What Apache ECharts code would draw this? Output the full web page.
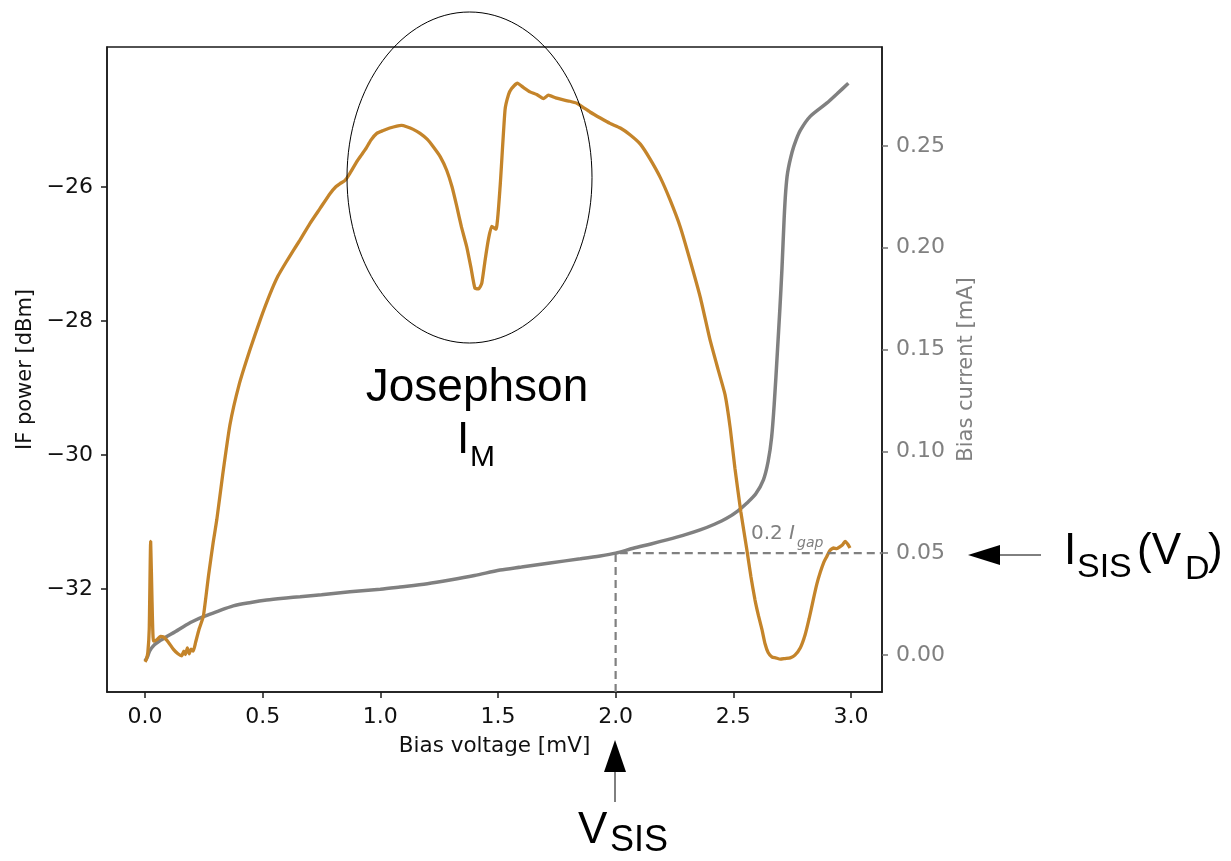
<!DOCTYPE html>
<html>
<head>
<meta charset="utf-8">
<script src="https://cdn.jsdelivr.net/npm/echarts@6/dist/echarts.min.js"></script>
<style>
  html, body { margin: 0; padding: 0; background: #fff; }
  #chart { width: 1231px; height: 861px; }
</style>
</head>
<body>
<div id="chart"></div>
<script>
// IF output power versus SIS bias voltage: [bias voltage mV, power dBm]
const ifPower = [
  [0.0, -33.09], [0.006, -33.05], [0.012, -32.95], [0.018, -32.6], [0.024, -31.29],
  [0.03, -32.2], [0.036, -32.78], [0.05, -32.76], [0.065, -32.71], [0.08, -32.72],
  [0.1, -32.8], [0.12, -32.9], [0.14, -32.97], [0.156, -33.0], [0.165, -32.93],
  [0.172, -32.98], [0.18, -32.88], [0.188, -32.97], [0.196, -32.9], [0.205, -32.93],
  [0.215, -32.8], [0.23, -32.6], [0.248, -32.41], [0.27, -31.8], [0.29, -31.3],
  [0.305, -30.97], [0.33, -30.3], [0.361, -29.55], [0.4, -28.95], [0.446, -28.43],
  [0.49, -27.98], [0.531, -27.6], [0.565, -27.33], [0.6, -27.12], [0.63, -26.95],
  [0.659, -26.79], [0.7, -26.55], [0.744, -26.32], [0.786, -26.1], [0.81, -26.0],
  [0.829, -25.95], [0.85, -25.9], [0.87, -25.8], [0.9, -25.62], [0.92, -25.52],
  [0.94, -25.42], [0.96, -25.3], [0.985, -25.2], [1.01, -25.16], [1.04, -25.12],
  [1.07, -25.09], [1.09, -25.08], [1.112, -25.1], [1.14, -25.14], [1.169, -25.2],
  [1.2, -25.29], [1.225, -25.4], [1.255, -25.55], [1.282, -25.75], [1.305, -26.0],
  [1.325, -26.29], [1.345, -26.6], [1.367, -26.89], [1.385, -27.2], [1.402, -27.51],
  [1.418, -27.52], [1.431, -27.44], [1.445, -27.1], [1.459, -26.79], [1.473, -26.59],
  [1.492, -26.63], [1.509, -26.0], [1.53, -24.85], [1.545, -24.62], [1.558, -24.53],
  [1.582, -24.45], [1.61, -24.52], [1.636, -24.58], [1.665, -24.62], [1.693, -24.68],
  [1.714, -24.63], [1.745, -24.67], [1.778, -24.7], [1.805, -24.72], [1.835, -24.75],
  [1.865, -24.82], [1.891, -24.88], [1.935, -24.97], [1.976, -25.05], [2.02, -25.12],
  [2.061, -25.22], [2.105, -25.36], [2.146, -25.58], [2.19, -25.86], [2.231, -26.19],
  [2.275, -26.6], [2.316, -27.09], [2.36, -27.65], [2.401, -28.28], [2.435, -28.72],
  [2.465, -29.1], [2.487, -29.6], [2.507, -30.2], [2.532, -30.85], [2.557, -31.4],
  [2.575, -31.82], [2.592, -32.16], [2.607, -32.4], [2.622, -32.61], [2.635, -32.82],
  [2.648, -32.95], [2.665, -33.02], [2.68, -33.03], [2.7, -33.05], [2.72, -33.04],
  [2.742, -33.03], [2.762, -32.99], [2.785, -32.88], [2.805, -32.69], [2.822, -32.45],
  [2.84, -32.16], [2.855, -31.93], [2.87, -31.75], [2.885, -31.6], [2.897, -31.52],
  [2.91, -31.43], [2.925, -31.39], [2.94, -31.4], [2.954, -31.37], [2.965, -31.34],
  [2.975, -31.29], [2.986, -31.33], [2.996, -31.39]
];

// DC bias current versus bias voltage: [bias voltage mV, current mA]
const biasCurrent = [
  [0.0, -0.003], [0.01, -0.001], [0.02, 0.002], [0.04, 0.005], [0.07, 0.0075],
  [0.1, 0.0095], [0.13, 0.0115], [0.163, 0.0139], [0.2, 0.0163], [0.248, 0.0188],
  [0.3, 0.021], [0.375, 0.0241], [0.45, 0.0258], [0.517, 0.027], [0.6, 0.028],
  [0.659, 0.0286], [0.75, 0.0296], [0.871, 0.031], [1.0, 0.0323], [1.084, 0.0334],
  [1.2, 0.035], [1.296, 0.0368], [1.4, 0.039], [1.509, 0.0417], [1.6, 0.0432],
  [1.721, 0.0452], [1.85, 0.0472], [1.934, 0.0486], [2.0, 0.05], [2.075, 0.0524],
  [2.15, 0.0545], [2.217, 0.0565], [2.3, 0.0592], [2.359, 0.0614], [2.42, 0.0642],
  [2.472, 0.0671], [2.52, 0.0708], [2.557, 0.0745], [2.595, 0.079], [2.628, 0.086],
  [2.648, 0.095], [2.663, 0.107], [2.675, 0.125], [2.687, 0.148], [2.698, 0.17],
  [2.707, 0.19], [2.716, 0.214], [2.723, 0.228], [2.731, 0.237], [2.75, 0.247],
  [2.767, 0.253], [2.786, 0.2579], [2.826, 0.2644], [2.897, 0.271], [2.94, 0.2755],
  [2.989, 0.2808]
];

// Operating point: bias voltage V_SIS and 0.2 I_gap current level
const opVoltage = 2.0;
const opCurrent = 0.05;

// Axis ranges and tick labels
const xRange = [-0.1615, 3.132];
const powerRange = [-33.54, -23.91];
const currentRange = [-0.0182, 0.2986];
const xTicks = [0.0, 0.5, 1.0, 1.5, 2.0, 2.5, 3.0];
const powerTicks = [-32, -30, -28, -26];
const currentTicks = [0.0, 0.05, 0.10, 0.15, 0.20, 0.25];

const AXIS_FONT = 'DejaVu Sans';
const NOTE_FONT = 'Liberation Sans';
const ORANGE = '#c4842a';
const GREY = '#808080';
const AXIS_BLACK = '#1a1a1a';
const LABEL_BLACK = '#111';

const chart = echarts.init(document.getElementById('chart'), null, { renderer: 'canvas' });

function textEl(text, x, y, size, opts) {
  opts = opts || {};
  return {
    type: 'text',
    z: 100,
    style: {
      text: text,
      x: x,
      y: y,
      fontSize: size,
      fontFamily: opts.family || NOTE_FONT,
      fontStyle: opts.italic ? 'italic' : 'normal',
      fill: opts.color || '#000',
      textAlign: opts.align || 'left',
      align: opts.align || 'left',
      textVerticalAlign: 'middle',
      verticalAlign: 'middle'
    }
  };
}

const option = {
  backgroundColor: '#fff',
  animation: false,
  grid: {
    left: 107, right: 349, top: 47, bottom: 169,
    show: true, borderColor: AXIS_BLACK, borderWidth: 1.5, backgroundColor: 'transparent'
  },
  xAxis: {
    type: 'value',
    min: xRange[0], max: xRange[1],
    name: 'Bias voltage [mV]',
    nameLocation: 'middle',
    nameGap: 43,
    nameTextStyle: { fontFamily: AXIS_FONT, fontSize: 21.5, color: LABEL_BLACK },
    axisLine: { onZero: false, lineStyle: { color: AXIS_BLACK, width: 1.5 } },
    axisTick: { customValues: xTicks, length: 6, lineStyle: { color: AXIS_BLACK, width: 1.5 } },
    axisLabel: {
      customValues: xTicks, margin: 14,
      fontFamily: AXIS_FONT, fontSize: 22, color: LABEL_BLACK,
      formatter: v => v.toFixed(1)
    },
    splitLine: { show: false }
  },
  yAxis: [
    {
      type: 'value',
      position: 'left',
      min: powerRange[0], max: powerRange[1],
      name: 'IF power [dBm]',
      nameLocation: 'middle',
      nameGap: 67,
      nameRotate: 90,
      nameTextStyle: { fontFamily: AXIS_FONT, fontSize: 21, color: LABEL_BLACK },
      axisLine: { show: true, onZero: false, lineStyle: { color: AXIS_BLACK, width: 1.5 } },
      axisTick: { show: true, customValues: powerTicks, length: 6, lineStyle: { color: AXIS_BLACK, width: 1.5 } },
      axisLabel: {
        customValues: powerTicks, margin: 14,
        fontFamily: AXIS_FONT, fontSize: 22, color: LABEL_BLACK,
        formatter: v => (v < 0 ? '\u2212' : '') + Math.abs(v).toFixed(0)
      },
      splitLine: { show: false }
    },
    {
      type: 'value',
      position: 'right',
      min: currentRange[0], max: currentRange[1],
      name: 'Bias current [mA]',
      nameLocation: 'middle',
      nameGap: 72,
      nameRotate: 90,
      nameTextStyle: { fontFamily: AXIS_FONT, fontSize: 21, color: GREY },
      axisLine: { show: true, onZero: false, lineStyle: { color: AXIS_BLACK, width: 1.5 } },
      axisTick: { show: true, customValues: currentTicks, length: 6, lineStyle: { color: '#707070', width: 1.5 } },
      axisLabel: {
        customValues: currentTicks, margin: 14,
        fontFamily: AXIS_FONT, fontSize: 22, color: GREY,
        formatter: v => v.toFixed(2)
      },
      splitLine: { show: false }
    }
  ],
  series: [
    {
      name: 'Bias current',
      type: 'line',
      yAxisIndex: 1,
      data: biasCurrent,
      showSymbol: false,
      smooth: 0.3,
      lineStyle: { color: GREY, width: 3.5 },
      z: 2
    },
    {
      name: 'IF power',
      type: 'line',
      yAxisIndex: 0,
      data: ifPower,
      showSymbol: false,
      smooth: 0.15,
      lineStyle: { color: ORANGE, width: 3.3 },
      z: 3
    },
    {
      name: 'Operating point',
      type: 'line',
      yAxisIndex: 1,
      data: [[opVoltage, currentRange[0]], [opVoltage, opCurrent], [xRange[1], opCurrent]],
      showSymbol: false,
      lineStyle: { color: GREY, width: 2.2, type: [8, 5] },
      z: 4
    }
  ],
  graphic: [
    // 0.2 I_gap note on the dashed current level
    textEl('0.2', 751, 534, 20, { family: AXIS_FONT, color: GREY }),
    textEl('I', 789, 534, 20, { family: AXIS_FONT, color: GREY, italic: true }),
    textEl('gap', 797, 543, 14, { family: AXIS_FONT, color: GREY, italic: true }),

    // Josephson mixing region
    {
      type: 'ellipse', z: 100,
      shape: { cx: 469.5, cy: 177.5, rx: 122.5, ry: 165.5 },
      style: { fill: 'none', stroke: '#000', lineWidth: 1 }
    },
    textEl('Josephson', 477, 388, 46, { align: 'center' }),
    textEl('I', 457, 441, 44),
    textEl('M', 470, 458, 30),

    // I_SIS(V_D) pointer
    {
      type: 'polygon', z: 100,
      shape: { points: [[968, 555], [1000, 545], [1000, 565]] },
      style: { fill: '#000' }
    },
    {
      type: 'line', z: 100,
      shape: { x1: 1000, y1: 555, x2: 1041, y2: 555 },
      style: { stroke: '#000', lineWidth: 1 }
    },
    textEl('I', 1064, 552, 44),
    textEl('SIS', 1077, 568, 34),
    textEl('(V', 1137, 552, 44),
    textEl('D', 1185, 570, 34),
    textEl(')', 1208, 552, 44),

    // V_SIS pointer
    {
      type: 'polygon', z: 100,
      shape: { points: [[615, 740], [604, 772], [626, 772]] },
      style: { fill: '#000' }
    },
    {
      type: 'line', z: 100,
      shape: { x1: 615, y1: 772, x2: 615, y2: 802 },
      style: { stroke: '#000', lineWidth: 1 }
    },
    textEl('V', 578, 831, 44),
    textEl('SIS', 610, 841, 36)
  ]
};

chart.setOption(option);
</script>
</body>
</html>
